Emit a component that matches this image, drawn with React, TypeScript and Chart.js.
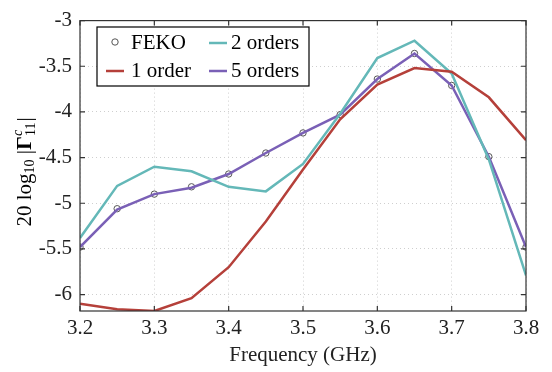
import React, { useEffect, useRef } from "react";
import { Chart, registerables } from "chart.js";

Chart.register(...registerables);

const freqs = [3.2, 3.25, 3.3, 3.35, 3.4, 3.45, 3.5, 3.55, 3.6, 3.65, 3.7, 3.75, 3.8];
const feko = [-5.48, -5.06, -4.9, -4.82, -4.68, -4.45, -4.23, -4.03, -3.64, -3.36, -3.71, -4.49, -5.48];
const order1 = [-6.1, -6.16, -6.18, -6.04, -5.7, -5.2, -4.63, -4.08, -3.7, -3.52, -3.56, -3.84, -4.31];
const order2 = [-5.38, -4.81, -4.6, -4.65, -4.82, -4.87, -4.57, -4.02, -3.41, -3.22, -3.58, -4.52, -5.79];
const order5 = [-5.48, -5.07, -4.9, -4.83, -4.68, -4.45, -4.23, -4.03, -3.64, -3.36, -3.71, -4.49, -5.48];
const xTicks = [3.2, 3.3, 3.4, 3.5, 3.6, 3.7, 3.8];
const yTicks = [-3, -3.5, -4, -4.5, -5, -5.5, -6];

const RED = "#B5403A";
const CYAN = "#64B8B8";
const PURPLE = "#7A60B6";
const FONT = "'Liberation Serif', 'Times New Roman', serif";

Chart.defaults.font.family = FONT;
Chart.defaults.font.size = 20;
Chart.defaults.color = "#222";

const framePlugin = {
  id: "frame",
  afterDraw(chart: any) {
    const { ctx, chartArea: a, scales } = chart;
    const xs = scales.x;
    const ys = scales.y;
    ctx.save();
    ctx.strokeStyle = "#333";
    ctx.lineWidth = 1.2;
    ctx.strokeRect(a.left, a.top, a.right - a.left, a.bottom - a.top);
    const tl = 5;
    ctx.beginPath();
    xTicks.forEach((t) => {
      const px = xs.getPixelForValue(t);
      ctx.moveTo(px, a.bottom);
      ctx.lineTo(px, a.bottom - tl);
      ctx.moveTo(px, a.top);
      ctx.lineTo(px, a.top + tl);
    });
    yTicks.forEach((t) => {
      const py = ys.getPixelForValue(t);
      ctx.moveTo(a.left, py);
      ctx.lineTo(a.left + tl, py);
      ctx.moveTo(a.right, py);
      ctx.lineTo(a.right - tl, py);
    });
    ctx.stroke();

    // legend
    const lx = 97, ly = 27, lw = 212, lh = 59;
    ctx.fillStyle = "#fff";
    ctx.fillRect(lx, ly, lw, lh);
    ctx.strokeStyle = "#000";
    ctx.lineWidth = 1.2;
    ctx.strokeRect(lx, ly, lw, lh);
    ctx.font = `21px ${FONT}`;
    ctx.textBaseline = "middle";
    ctx.textAlign = "left";
    const rows = [43, 71];
    ctx.strokeStyle = "#555";
    ctx.lineWidth = 1;
    ctx.beginPath();
    ctx.arc(115, rows[0] - 1, 3.2, 0, Math.PI * 2);
    ctx.stroke();
    ctx.fillStyle = "#000";
    ctx.fillText("FEKO", 131, rows[0]);
    const seg = (x1: number, x2: number, y: number, c: string) => {
      ctx.strokeStyle = c;
      ctx.lineWidth = 2.5;
      ctx.beginPath();
      ctx.moveTo(x1, y);
      ctx.lineTo(x2, y);
      ctx.stroke();
    };
    seg(106, 124, rows[1], RED);
    ctx.fillText("1 order", 131, rows[1]);
    seg(209, 227, rows[0], CYAN);
    ctx.fillText("2 orders", 231, rows[0]);
    seg(209, 227, rows[1], PURPLE);
    ctx.fillText("5 orders", 231, rows[1]);

    // y title
    ctx.save();
    ctx.translate(25, 172);
    ctx.rotate(-Math.PI / 2);
    ctx.fillStyle = "#000";
    ctx.textBaseline = "middle";
    const parts: [string, string, number][] = [
      ["20 log", "21px", 0],
      ["10", "14px", 5],
      [" |", "21px", 0],
      ["Γ", "bold 22px", 0],
      ["c", "italic 14px", -7],
      ["|", "21px", 0],
    ];
    let total = 0;
    const widths: number[] = [];
    parts.forEach(([t, f]) => {
      ctx.font = `${f} ${FONT}`;
      const w = ctx.measureText(t).width;
      widths.push(w);
      total += w;
    });
    ctx.font = `14px ${FONT}`;
    const sub11 = ctx.measureText("11").width;
    total += Math.max(0, sub11 - widths[4]) + 1;
    let x = -total / 2;
    parts.forEach(([t, f, dy], i) => {
      ctx.font = `${f} ${FONT}`;
      ctx.fillText(t, x, dy);
      if (i === 4) {
        ctx.font = `14px ${FONT}`;
        ctx.fillText("11", x, 6);
        x += Math.max(widths[i], sub11) + 1;
      } else {
        x += widths[i];
      }
    });
    ctx.restore();
    ctx.restore();
  },
};

export default function App() {
  const ref = useRef<HTMLCanvasElement>(null);
  useEffect(() => {
    document.body.style.margin = "0";
    const mk = (data: number[]) => freqs.map((f, i) => ({ x: f, y: data[i] }));
    const chart = new Chart(ref.current!, {
      type: "line",
      data: {
        datasets: [
          { label: "1 order", data: mk(order1), borderColor: RED, borderWidth: 2.5, pointRadius: 0, tension: 0 },
          { label: "2 orders", data: mk(order2), borderColor: CYAN, borderWidth: 2.5, pointRadius: 0, tension: 0 },
          { label: "5 orders", data: mk(order5), borderColor: PURPLE, borderWidth: 2.5, pointRadius: 0, tension: 0 },
          {
            label: "FEKO",
            data: mk(feko),
            showLine: false,
            borderColor: "#555",
            backgroundColor: "rgba(0,0,0,0)",
            pointRadius: 3.2,
            pointBorderWidth: 1,
            pointBorderColor: "#555",
          },
        ],
      },
      options: {
        responsive: false,
        animation: false,
        layout: { padding: { top: 12, right: 26, left: 0, bottom: 0 } },
        plugins: { legend: { display: false }, tooltip: { enabled: false } },
        scales: {
          x: {
            type: "linear",
            min: 3.2,
            max: 3.8,
            afterBuildTicks: (s: any) => {
              s.ticks = xTicks.map((v) => ({ value: v }));
            },
            afterFit: (s: any) => {
              s.height = 61;
            },
            ticks: {
              font: { family: FONT, size: 21 },
              color: "#222",
              padding: 5,
              maxRotation: 0,
              callback: (v: any) => Number(v).toFixed(1),
            },
            grid: { drawTicks: false, color: "#cfcfcf", lineWidth: 1 },
            border: { display: false, dash: [1, 3] },
            title: {
              display: true,
              text: "Frequency (GHz)",
              font: { family: FONT, size: 21 },
              color: "#222",
              padding: { top: 0 },
            },
          },
          y: {
            type: "linear",
            min: -6.18,
            max: -3,
            afterBuildTicks: (s: any) => {
              s.ticks = yTicks.map((v) => ({ value: v }));
            },
            afterFit: (s: any) => {
              s.width = 80;
            },
            ticks: {
              font: { family: FONT, size: 21 },
              color: "#222",
              padding: 8,
              callback: (v: any) => String(v),
            },
            grid: { drawTicks: false, color: "#cfcfcf", lineWidth: 1 },
            border: { display: false, dash: [1, 3] },
          },
        },
      } as any,
      plugins: [framePlugin],
    });
    return () => chart.destroy();
  }, []);
  return <canvas ref={ref} width={552} height={372} style={{ display: "block" }} />;
}
